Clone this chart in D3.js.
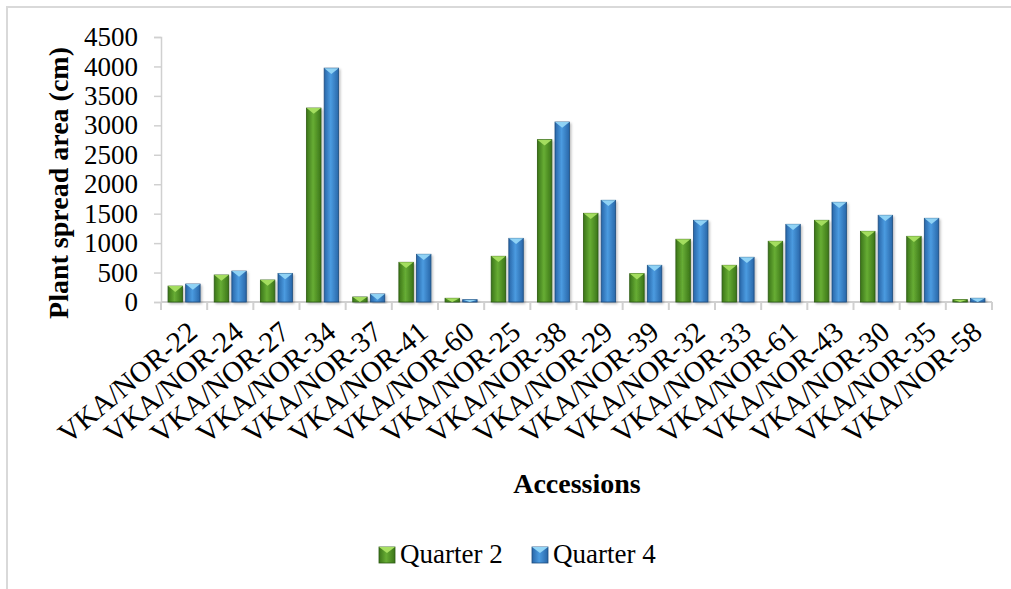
<!DOCTYPE html>
<html>
<head>
<meta charset="utf-8">
<script src="https://cdn.jsdelivr.net/npm/d3@7"></script>
<style>
  body { margin: 0; background: #fff; }
  svg text { font-family: "Liberation Serif", "Times New Roman", serif; fill: #000; }
</style>
</head>
<body>
<div id="chart"></div>
<script>

var categories = ['VKA/NOR-22', 'VKA/NOR-24', 'VKA/NOR-27', 'VKA/NOR-34', 'VKA/NOR-37', 'VKA/NOR-41',
    'VKA/NOR-60', 'VKA/NOR-25', 'VKA/NOR-38', 'VKA/NOR-29', 'VKA/NOR-39', 'VKA/NOR-32',
    'VKA/NOR-33', 'VKA/NOR-61', 'VKA/NOR-43', 'VKA/NOR-30', 'VKA/NOR-35', 'VKA/NOR-58'];
var quarter2 = [270, 458, 373, 3293, 85, 674, 63, 776, 2757, 1506, 482, 1065, 623, 1031, 1387, 1200, 1115, 40];
var quarter4 = [305, 525, 486, 3971, 136, 810, 40, 1081, 3056, 1727, 623, 1387, 759, 1319, 1693, 1472, 1421, 63];
var seriesNames = ['Quarter 2', 'Quarter 4'];
var yTicks = [0, 500, 1000, 1500, 2000, 2500, 3000, 3500, 4000, 4500];

function renderBarChart(params) {
    var attrs = {
        svgWidth: 1011,
        svgHeight: 589,
        marginTop: 37,
        marginLeft: 161,
        plotWidth: 831,
        plotHeight: 265
    };
    Object.keys(attrs).forEach(function (key) {
        if (params && params[key]) attrs[key] = params[key];
    });

    var svg = d3.select('#chart')
        .append('svg')
        .attr('width', attrs.svgWidth)
        .attr('height', attrs.svgHeight);

    var defs = svg.append('defs');

    // cylinder-like shading for each series
    var looks = [
        { id: 'gGreen', edge: '#3b7519', mid: '#67ad34', stroke: '#2c5a12', cap: '#a8e062' },
        { id: 'gBlue', edge: '#2866a8', mid: '#4b9be0', stroke: '#1d4c7e', cap: '#93d6f7' }
    ];
    looks.forEach(function (l) {
        var g = defs.append('linearGradient').attr('id', l.id)
            .attr('x1', '0%').attr('x2', '100%').attr('y1', '0%').attr('y2', '0%');
        g.append('stop').attr('offset', '0%').attr('stop-color', l.edge);
        g.append('stop').attr('offset', '45%').attr('stop-color', l.mid);
        g.append('stop').attr('offset', '100%').attr('stop-color', l.edge);
    });
    var shadow = defs.append('filter').attr('id', 'shadow')
        .attr('x', '-30%').attr('y', '-10%').attr('width', '160%').attr('height', '130%');
    shadow.append('feDropShadow').attr('dx', 1.5).attr('dy', 1.5).attr('stdDeviation', 1.2)
        .attr('flood-color', '#000').attr('flood-opacity', 0.25);

    // outer frame
    svg.append('rect')
        .attr('x', 7).attr('y', 7)
        .attr('width', attrs.svgWidth + 20).attr('height', attrs.svgHeight + 20)
        .attr('fill', 'none').attr('stroke', '#d9d9d9').attr('stroke-width', 2);

    var chart = svg.append('g')
        .attr('transform', 'translate(' + attrs.marginLeft + ',' + attrs.marginTop + ')');

    var x = d3.scaleBand().domain(categories).range([0, attrs.plotWidth]).paddingInner(0).paddingOuter(0);
    var x1 = d3.scaleBand().domain(seriesNames).range([0, x.bandwidth()]).paddingInner(0.18).paddingOuter(0.4);
    var y = d3.scaleLinear().domain([0, 4500]).range([attrs.plotHeight, 0]);

    // y axis
    var yAxis = chart.append('g')
        .call(d3.axisLeft(y).tickValues(yTicks).tickFormat(d3.format('d')).tickSize(7).tickPadding(16));
    yAxis.attr('font-family', null).attr('font-size', null);
    yAxis.selectAll('path, line').attr('stroke', '#d0d0d0').attr('stroke-width', 1.5);
    yAxis.selectAll('text')
        .attr('font-family', 'Liberation Serif')
        .style('font-family', 'Liberation Serif')
        .style('font-size', '27px')
        .attr('fill', '#000');

    // x axis with ticks at category boundaries
    var xAxisG = chart.append('g').attr('transform', 'translate(0,' + attrs.plotHeight + ')');
    xAxisG.append('line')
        .attr('x1', 0).attr('x2', attrs.plotWidth)
        .attr('stroke', '#d0d0d0').attr('stroke-width', 2);
    xAxisG.selectAll('.tick')
        .data(categories.concat(['end']))
        .enter().append('line')
        .attr('x1', function (d, i) { return i * x.step(); })
        .attr('x2', function (d, i) { return i * x.step(); })
        .attr('y1', 0).attr('y2', 8)
        .attr('stroke', '#d0d0d0').attr('stroke-width', 2);

    xAxisG.selectAll('.xlab')
        .data(categories)
        .enter().append('text')
        .attr('class', 'xlab')
        .attr('text-anchor', 'end')
        .style('font-size', '29px')
        .attr('transform', function (d) {
            return 'translate(' + (x(d) + x.bandwidth() / 2 + 15) + ',' + 33 + ') rotate(-40)';
        })
        .text(function (d) { return d; });

    // bars
    var series = [quarter2, quarter4];
    series.forEach(function (vals, s) {
        var look = looks[s];
        var g = chart.append('g');
        var bars = g.selectAll('g.bar')
            .data(vals)
            .enter().append('g')
            .attr('class', 'bar');
        bars.append('rect')
            .attr('x', function (d, i) { return x(categories[i]) + x1(seriesNames[s]); })
            .attr('y', function (d) { return y(d); })
            .attr('width', x1.bandwidth())
            .attr('height', function (d) { return attrs.plotHeight - y(d); })
            .attr('fill', 'url(#' + look.id + ')')
            .attr('stroke', look.stroke)
            .attr('stroke-width', 0.8)
            .attr('filter', 'url(#shadow)');
        bars.append('path')
            .attr('d', function (d, i) {
                var bx = x(categories[i]) + x1(seriesNames[s]);
                var by = y(d);
                var w = x1.bandwidth();
                var h = Math.min(w * 0.4, attrs.plotHeight - by);
                return 'M' + bx + ',' + by + 'L' + (bx + w) + ',' + by + 'L' + (bx + w / 2) + ',' + (by + h) + 'Z';
            })
            .attr('fill', look.cap)
            .attr('opacity', 0.95);
    });

    // axis titles
    svg.append('text')
        .attr('transform', 'translate(68,' + 183 + ') rotate(-90)')
        .attr('text-anchor', 'middle')
        .style('font-size', '28px')
        .attr('font-weight', 'bold')
        .text('Plant spread area (cm)');

    svg.append('text')
        .attr('x', 577).attr('y', 493)
        .attr('text-anchor', 'middle')
        .style('font-size', '28px')
        .attr('font-weight', 'bold')
        .text('Accessions');

    // legend
    var legend = svg.append('g');
    var legendX = [379, 532];
    seriesNames.forEach(function (name, s) {
        var look = looks[s];
        var lg = legend.append('g').attr('transform', 'translate(' + legendX[s] + ',547)');
        lg.append('rect').attr('width', 16).attr('height', 16)
            .attr('fill', 'url(#' + look.id + ')').attr('stroke', look.stroke).attr('stroke-width', 0.8);
        lg.append('path').attr('d', 'M0,0L16,0L8,6Z').attr('fill', look.cap);
        lg.append('text').attr('x', 21).attr('y', 15.5)
            .style('font-size', '27px')
            .text(name);
    });
}

renderBarChart();
</script>
</body>
</html>
